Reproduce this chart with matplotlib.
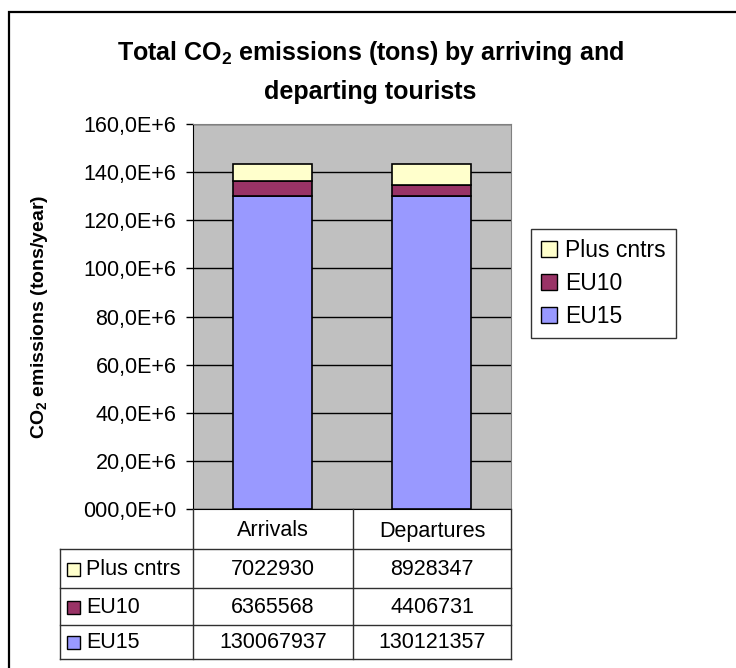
import matplotlib
matplotlib.use("Agg")
import matplotlib.pyplot as plt
from matplotlib.patches import Rectangle, Patch
from matplotlib.lines import Line2D
from matplotlib.ticker import FuncFormatter, MultipleLocator

plt.rcParams['font.family'] = ['Liberation Sans', 'DejaVu Sans']
plt.rcParams['mathtext.fontset'] = 'custom'
plt.rcParams['mathtext.rm'] = 'Liberation Sans'
plt.rcParams['mathtext.bf'] = 'Liberation Sans:bold'
plt.rcParams['mathtext.default'] = 'regular'

# data
categories = ['Arrivals', 'Departures']
series_names = ['EU15', 'EU10', 'Plus cntrs']
eu15 = [130067937, 130121357]
eu10 = [6365568, 4406731]
plus_cntrs = [7022930, 8928347]
colors = ['#9999FF', '#993366', '#FFFFCC']

W, H = 736, 668
fs = 15.5
fig = plt.figure(figsize=(W / 100, H / 100), dpi=100)

def fx(px):
    return px / W

def fy(py):
    return 1 - py / H

# outer chart border
fig.add_artist(Rectangle((fx(9), fy(700)), 1.2, fy(12) - fy(700), transform=fig.transFigure,
                         fill=False, edgecolor='black', lw=1.6))

left, right, top, bottom = 193, 511, 124, 509
ax = fig.add_axes([fx(left), fy(bottom), fx(right - left), fy(top) - fy(bottom)])
ax.set_facecolor('#C0C0C0')

x = [0, 1]
base = [0, 0]
for vals, c in zip([eu15, eu10, plus_cntrs], colors):
    ax.bar(x, vals, width=0.5, bottom=base, color=c, edgecolor='black', lw=1.2, zorder=3)
    base = [b + v for b, v in zip(base, vals)]

ax.set_xlim(-0.5, 1.5)
ax.set_ylim(0, 160e6)
ax.yaxis.set_major_locator(MultipleLocator(20e6))
ax.yaxis.grid(True, color='black', lw=1, zorder=1)
ax.set_axisbelow(True)

def fmt(v, pos):
    if v == 0:
        return '000,0E+0'
    return '%d,0E+6' % round(v / 1e6)

ax.yaxis.set_major_formatter(FuncFormatter(fmt))
ax.tick_params(axis='y', labelsize=fs, length=5, width=1, direction='out', pad=7)
ax.set_xticks([])
ax.spines['top'].set_color('#808080')
ax.spines['right'].set_color('#808080')
ax.spines['left'].set_color('black')
ax.spines['bottom'].set_color('black')

fig.text(fx(370), fy(53), r'Total CO$_2$ emissions (tons) by arriving and',
         ha='center', va='center', fontsize=18, fontweight='bold')
fig.text(fx(370), fy(92), 'departing tourists',
         ha='center', va='center', fontsize=18, fontweight='bold')
fig.text(fx(40), fy(317), r'CO$_2$ emissions (tons/year)', rotation=90,
         ha='center', va='center', fontsize=14, fontweight='bold')

# legend
handles = [Patch(facecolor=c, edgecolor='black', lw=1) for c in colors[::-1]]
leg = fig.legend(handles, series_names[::-1], loc='upper left',
                 bbox_to_anchor=(fx(531), fy(229)), frameon=True, fancybox=False,
                 fontsize=16.5, handlelength=0.7, handleheight=0.7, handletextpad=0.35,
                 borderpad=0.45, labelspacing=0.42, borderaxespad=0)
leg.get_frame().set_edgecolor('black')
leg.get_frame().set_linewidth(1)

# data table
col_x = [60, 193, 353, 511]
row_y = [509, 549, 588, 625, 659]
lc = '#303030'

def hline(y, x0, x1):
    fig.add_artist(Line2D([fx(x0), fx(x1)], [fy(y), fy(y)], color=lc, lw=1,
                          transform=fig.transFigure))

def vline(xp, y0, y1):
    fig.add_artist(Line2D([fx(xp), fx(xp)], [fy(y0), fy(y1)], color=lc, lw=1,
                          transform=fig.transFigure))

for y in row_y[1:]:
    hline(y, col_x[0], col_x[3])
vline(col_x[0], row_y[1], row_y[4])
for xp in col_x[1:]:
    vline(xp, row_y[0], row_y[4])

for j, cat in enumerate(categories):
    fig.text(fx((col_x[j + 1] + col_x[j + 2]) / 2), fy((row_y[0] + row_y[1]) / 2 + 2), cat,
             ha='center', va='center', fontsize=fs)

table_rows = [('Plus cntrs', plus_cntrs, colors[2]),
              ('EU10', eu10, colors[1]),
              ('EU15', eu15, colors[0])]
for i, (name, vals, c) in enumerate(table_rows):
    yc = (row_y[i + 1] + row_y[i + 2]) / 2
    fig.add_artist(Rectangle((fx(67), fy(yc + 7)), fx(13), fy(yc - 6) - fy(yc + 7),
                             transform=fig.transFigure, facecolor=c, edgecolor='black', lw=1))
    fig.text(fx(86), fy(yc + 1), name, ha='left', va='center', fontsize=fs)
    for j, v in enumerate(vals):
        fig.text(fx((col_x[j + 1] + col_x[j + 2]) / 2), fy(yc + 1), str(v),
                 ha='center', va='center', fontsize=fs)

fig.savefig('out.png', dpi=100)
